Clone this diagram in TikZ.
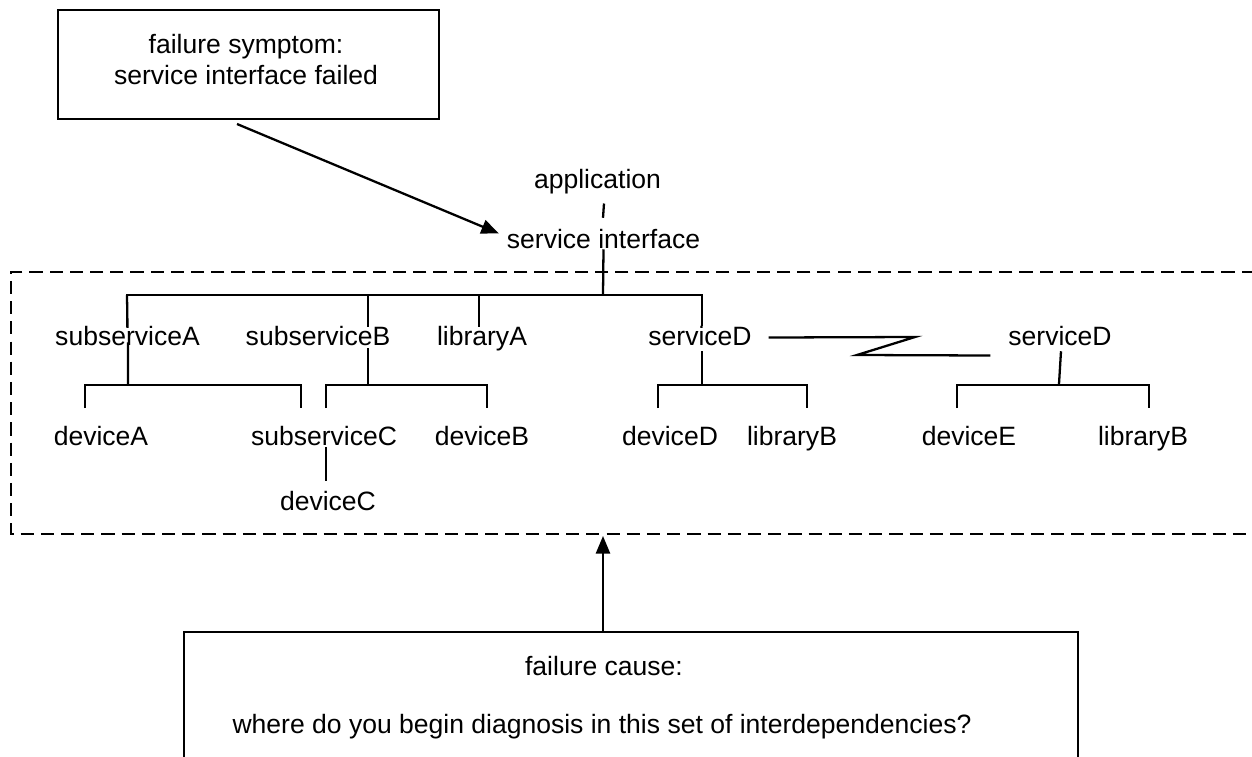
\documentclass[tikz,border=0pt]{standalone}
\usepackage{fontspec}
\setmainfont{Liberation Sans}
\usetikzlibrary{arrows.meta,calc}

\begin{document}
\begin{tikzpicture}[
  x=0.02cm, y=-0.02cm,
  every node/.style={font=\fontsize{15.1pt}{18.1pt}\selectfont},
  txt/.style={anchor=base, inner sep=0pt, outer sep=0pt},
  wire/.style={line width=1.3pt},
  frame/.style={draw, line width=1.4pt, inner sep=0pt},
  zone/.style={line width=1.4pt, dash pattern=on 7.5pt off 4pt},
  pointer/.style={line width=1.3pt, -{Triangle[length=10pt,width=8pt]}}
]
\useasboundingbox (0,0) rectangle (1252,757);

% --- failure symptom box ---
\node[frame, minimum width=381*0.02cm, minimum height=109*0.02cm] (sym) at (248.5,64.5) {};
% a multi-line node's base anchor sits on its last line
\node[txt, align=center] (symtxt) at (246,85) {failure symptom:\\service interface failed};

% --- dependency zone (dashed, open to the right) ---
\draw[zone] (1275,272) -- (11,272) -- (11,534) -- (1275,534);
\coordinate (zonebot) at (603,536);

% --- top of the tree ---
\node[txt] (app) at (597.5,189) {application};
\node[txt] (si)  at (603.5,249) {service interface};

% --- first level ---
\node[txt] (subA) at (127.5,345) {subserviceA};
\node[txt] (subB) at (318,345)   {subserviceB};
\node[txt] (libA) at (482,345)   {libraryA};
\node[txt] (srvD) at (700,345)   {serviceD};
\node[txt] (srvD2) at (1060,345) {serviceD};

% --- second level ---
\node[txt] (devA) at (101,445)  {deviceA};
\node[txt] (subC) at (324,445)  {subserviceC};
\node[txt] (devB) at (482,445)  {deviceB};
\node[txt] (devD) at (670,445)  {deviceD};
\node[txt] (libB) at (792,445)  {libraryB};
\node[txt] (devE) at (969,445)  {deviceE};
\node[txt] (libB2) at (1143,445){libraryB};

% --- third level ---
\node[txt] (devC) at (328,510) {deviceC};

% --- connectors ---
\draw[wire] ($(app.south)+(6.5,9)$) -- ($(si.north)+(-0.5,-12)$);

% service interface to first level
\draw[wire] (si.south) -- (603,295);
\draw[wire] (127,327) |- (702,295) -- (702,326);
\draw[wire] (368,295) -- ($(subB.north)+(50,1)$);
\draw[wire] (479,295) -- ($(libA.north)+(-3,1)$);
\draw[wire] (subA.north) ++(0,2) -- (127,295);

% subserviceA branch
\draw[wire] ($(subA.south)+(0.5,-3)$) -- (128,385);
\draw[wire] (85,408) |- (301,385) -- (301,408);

% subserviceB branch
\draw[wire] ($(subB.south)+(50,3)$) -- (368,385);
\draw[wire] (326,408) |- (487,385) -- (487,408);

% subserviceC to deviceC
\draw[wire] ($(subC.south)+(2,2)$) -- ($(devC.north)+(-2,-10)$);

% serviceD (left) branch
\draw[wire] ($(srvD.south)+(2,6)$) -- (702,385);
\draw[wire] (658,408) |- (807,385) -- (807,408);

% serviceD (right) branch
\draw[wire] ($(srvD2.south)+(1,6)$) -- (1059,384);
\draw[wire] (957,408) |- (1149,385) -- (1149,408);

% broken link between the two serviceD nodes
\draw[wire] ($(srvD.east)+(17,2)$) -- (915,337) -- (857,355) -- ($(srvD2.west)+(-18,20)$);

% --- failure cause box ---
\node[frame, minimum width=894*0.02cm, minimum height=240*0.02cm] (cause) at (631,752) {};
\node[txt] (causetxt) at (604,675) {failure cause:};
\node[txt] (question) at (602,733) {where do you begin diagnosis in this set of interdependencies?};

% --- arrows ---
\draw[pointer] (237,124) -- ($(si.west)+(-8,-6)$);
\draw[pointer] (cause.north -| zonebot) -- (zonebot);
\end{tikzpicture}
\end{document}
